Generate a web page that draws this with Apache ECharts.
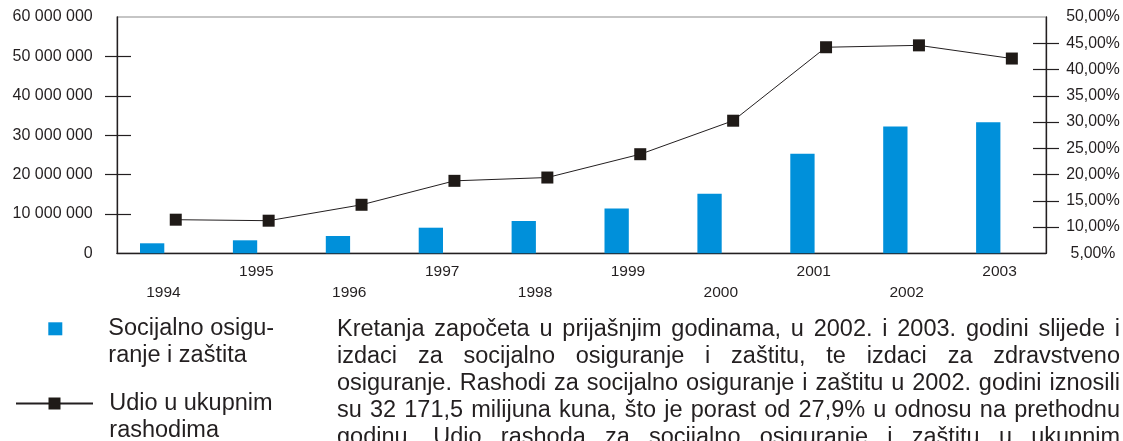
<!DOCTYPE html>
<html>
<head>
<meta charset="utf-8">
<script src="https://cdn.jsdelivr.net/npm/echarts@6/dist/echarts.min.js"></script>
<style>
  html, body { margin: 0; padding: 0; width: 1123px; height: 441px; overflow: hidden; background: #fff; }
  #chart { position: absolute; left: 0; top: 0; width: 1123px; height: 441px; }
  #note { position: absolute; left: 337px; top: 314.5px; width: 783px;
          font-family: 'Liberation Sans', Arial, Helvetica, sans-serif;
          font-size: 23.5px; line-height: 27px; color: #231f20; }
  #note div { text-align: justify; text-align-last: justify; }
</style>
</head>
<body>
<div id="chart"></div>
<div id="note"></div>
<script>
// Years on the category axis
const years = ['1994', '1995', '1996', '1997', '1998', '1999', '2000', '2001', '2002', '2003'];
// Social insurance and welfare expenditure (thousand kuna)
const socialInsurance = [2540000, 3300000, 4390000, 6500000, 8200000, 11400000, 15100000, 25300000, 32171500, 33300000];
// Share in total expenditure (%)
const shareOfTotal = [11.40, 11.21, 14.24, 18.80, 19.43, 23.87, 30.25, 44.24, 44.60, 42.09];
// Tick positions
const leftTickValues = [10000000, 20000000, 30000000, 40000000, 50000000];
const rightTickValues = [10, 15, 20, 25, 30, 35, 40, 45];
// Legend captions (with manual hyphenation); the leading blank line puts
// the first caption line level with the legend symbol
const barName = 'Socijalno osiguranje i zaštita';
const lineName = 'Udio u ukupnim rashodima';
const legendCaptions = {};
legendCaptions[barName] = ' \nSocijalno osigu-\nranje i zaštita';
legendCaptions[lineName] = ' \nUdio u ukupnim\nrashodima';
// Paragraph beside the legend
const noteLines = [
  'Kretanja započeta u prijašnjim godinama, u 2002. i 2003. godini slijede i',
  'izdaci za socijalno osiguranje i zaštitu, te izdaci za zdravstveno',
  'osiguranje. Rashodi za socijalno osiguranje i zaštitu u 2002. godini iznosili',
  'su 32 171,5 milijuna kuna, što je porast od 27,9% u odnosu na prethodnu',
  'godinu. Udio rashoda za socijalno osiguranje i zaštitu u ukupnim'
];

const note = document.getElementById('note');
noteLines.forEach(function (t) {
  const d = document.createElement('div');
  d.textContent = t;
  note.appendChild(d);
});

const FONT = "'Liberation Sans', Arial, Helvetica, sans-serif";
const INK = '#231f20';
const BLUE = '#0090da';

const G = { left: 117, right: 77, top: 17, bottom: 187.7 };
const BAR_SHIFT = -11.3;
const LINE_SHIFT = 12.3;

function thousands(v) {
  return String(v).replace(/\B(?=(\d{3})+(?!\d))/g, ' ');
}

const chart = echarts.init(document.getElementById('chart'), null, { renderer: 'canvas' });

const option = {
  animation: false,
  backgroundColor: '#fff',
  textStyle: { fontFamily: FONT },
  grid: [
    { left: G.left, right: G.right, top: G.top, bottom: G.bottom,
      show: true, borderColor: '#8c8c8c', borderWidth: 1.2, backgroundColor: 'transparent' },
    { left: G.left + BAR_SHIFT, right: G.right - BAR_SHIFT, top: G.top, bottom: G.bottom },
    { left: G.left + LINE_SHIFT, right: G.right - LINE_SHIFT, top: G.top, bottom: G.bottom }
  ],
  xAxis: [
    {
      gridIndex: 0, type: 'category', data: years, boundaryGap: true,
      axisLine: { show: true, lineStyle: { color: INK, width: 1.3 } },
      axisTick: { show: false },
      axisLabel: {
        interval: 0, margin: 7.7, color: INK, fontSize: 15.5, fontFamily: FONT, lineHeight: 21.3,
        formatter: function (v, i) { return i % 2 === 0 ? '\n' + v : v; }
      },
      splitLine: { show: false }
    },
    { gridIndex: 1, type: 'category', data: years, show: false },
    { gridIndex: 2, type: 'category', data: years, show: false }
  ],
  yAxis: [
    {
      gridIndex: 0, type: 'value', position: 'left', min: 0, max: 60000000, interval: 10000000,
      axisLine: { show: true, lineStyle: { color: INK, width: 1.3 } },
      axisTick: { show: true, inside: false, length: 12, customValues: leftTickValues, lineStyle: { color: INK, width: 1.2 } },
      axisLabel: { margin: 24.3, color: INK, fontSize: 16, fontFamily: FONT, padding: [5, 0, 0, 0],
                   formatter: function (v) { return thousands(v); } },
      splitLine: { show: false }
    },
    {
      gridIndex: 0, type: 'value', position: 'right', min: 5, max: 50, interval: 5,
      axisLine: { show: true, lineStyle: { color: INK, width: 1.3 } },
      axisTick: { show: true, inside: false, length: 13, customValues: rightTickValues, lineStyle: { color: INK, width: 1.2 } },
      axisLabel: { margin: 47, align: 'center', color: INK, fontSize: 15.8, fontFamily: FONT, padding: [3, 0, 0, 0],
                   formatter: function (v) { return v.toFixed(2).replace('.', ',') + '%'; } },
      splitLine: { show: false }
    },
    {
      gridIndex: 0, type: 'value', position: 'left', min: 0, max: 60000000, interval: 10000000,
      axisLine: { show: false }, axisLabel: { show: false }, splitLine: { show: false },
      axisTick: { show: true, inside: true, length: 14, customValues: leftTickValues, lineStyle: { color: INK, width: 1.2 } }
    },
    {
      gridIndex: 0, type: 'value', position: 'right', min: 5, max: 50, interval: 5,
      axisLine: { show: false }, axisLabel: { show: false }, splitLine: { show: false },
      axisTick: { show: true, inside: true, length: 13, customValues: rightTickValues, lineStyle: { color: INK, width: 1.2 } }
    },
    { gridIndex: 1, type: 'value', min: 0, max: 60000000, show: false },
    { gridIndex: 2, type: 'value', min: 5, max: 50, show: false }
  ],
  legend: [
    {
      data: [{ name: barName, icon: 'rect' }],
      orient: 'vertical', left: 48.3, top: 288.3, padding: 0,
      itemWidth: 14, itemHeight: 13, selectedMode: false,
      formatter: function (n) { return legendCaptions[n]; },
      textStyle: { color: INK, fontSize: 23.5, lineHeight: 27, fontFamily: FONT, padding: [0, 0, 0, 41] }
    },
    {
      data: [{ name: lineName }],
      orient: 'vertical', left: 15, top: 363, padding: 0,
      itemWidth: 77, itemHeight: 15, selectedMode: false,
      formatter: function (n) { return legendCaptions[n]; },
      textStyle: { color: INK, fontSize: 23.5, lineHeight: 27, fontFamily: FONT, padding: [0, 0, 0, 11.3] }
    }
  ],
  series: [
    {
      name: barName, type: 'bar', xAxisIndex: 1, yAxisIndex: 4,
      data: socialInsurance, barWidth: 24.3,
      itemStyle: { color: BLUE }
    },
    {
      name: lineName, type: 'line', xAxisIndex: 2, yAxisIndex: 5,
      data: shareOfTotal, symbol: 'rect', symbolSize: 12,
      lineStyle: { color: INK, width: 1 },
      itemStyle: { color: '#1f1a17' },
      z: 5
    }
  ]
};

chart.setOption(option);
</script>
</body>
</html>
